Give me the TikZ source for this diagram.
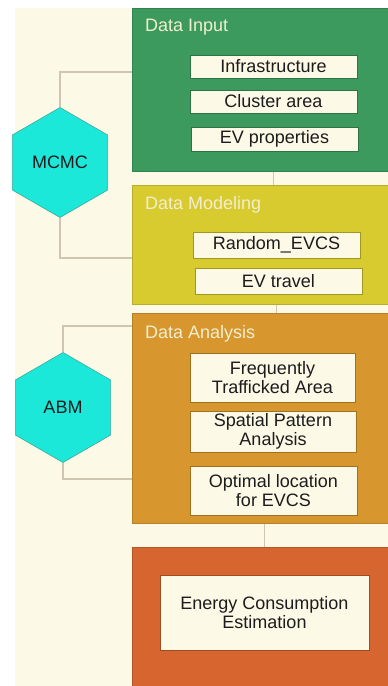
\documentclass[tikz,border=0pt]{standalone}
\usepackage{fontspec}
\setmainfont{Liberation Sans}
\usepackage{tikz}
\usetikzlibrary{positioning,shapes.geometric}

\definecolor{paper}{HTML}{FDF9E7}
\definecolor{inputgreen}{HTML}{3C9A5E}
\definecolor{modelyellow}{HTML}{D7CB2F}
\definecolor{analysisorange}{HTML}{D7962E}
\definecolor{energyred}{HTML}{D6652F}
\definecolor{hexcyan}{HTML}{1CE8DA}
\definecolor{hexedge}{HTML}{3FA89E}
\definecolor{linkgray}{HTML}{CFC6B2}
\definecolor{titlecream}{HTML}{F3EECF}
\definecolor{inktext}{HTML}{1C1C1C}

\tikzset{
  stage/.style={rectangle, anchor=north west, fill=#1, draw=#1!85!black,
    line width=0.6pt, minimum width=256pt, inner sep=0pt},
  title/.style={anchor=west, text=titlecream, inner sep=0pt,
    font=\fontsize{18}{20}\selectfont},
  item/.style={rectangle, draw=#1!75!black, fill=paper, text=inktext,
    align=center, inner sep=0pt, line width=0.6pt,
    font=\fontsize{18}{19.5}\selectfont},
  method/.style={regular polygon, regular polygon sides=6,
    shape border rotate=30, minimum size=110pt, inner sep=0pt,
    fill=hexcyan, draw=hexedge, line width=0.6pt, text=inktext,
    font=\fontsize{18}{20}\selectfont},
  link/.style={draw=linkgray, line width=1.2pt}
}

\begin{document}
\begin{tikzpicture}[x=1pt, y=-1pt]
  % Page and paper
  \fill[white] (0,0) rectangle (388,686);
  \useasboundingbox (0,0) rectangle (388,686);
  \fill[paper] (15,8) rectangle (388,686);

  % Define the stages
  \node[stage=inputgreen, minimum height=163pt] (input) at (132,8) {};
  \node[stage=modelyellow, minimum height=119pt] (model) at (132,185) {};
  \node[stage=analysisorange, minimum height=210pt] (analysis) at (132,313) {};
  \node[stage=energyred, minimum height=142pt] (energy) at (132,547) {};

  \node[title] (inputtitle) at (145,27) {Data Input};
  \node[title] (modeltitle) at (145,205) {Data Modeling};
  \node[title] (analysistitle) at (145,334) {Data Analysis};

  % Define the items of each stage
  \node[item=inputgreen, minimum width=167pt, minimum height=23pt] (infra) at (273.5,66.5) {Infrastructure};
  \node[item=inputgreen, minimum width=167pt, minimum height=23pt] (cluster) at (273.5,101.5) {Cluster area};
  \node[item=inputgreen, minimum width=167pt, minimum height=24pt] (evprop) at (274.5,139) {EV properties};

  \node[item=modelyellow, minimum width=167pt, minimum height=26pt] (evcs) at (276.5,245) {Random\_EVCS};
  \node[item=modelyellow, minimum width=167pt, minimum height=26pt] (travel) at (278.5,281) {EV travel};

  \node[item=analysisorange, minimum width=165pt, minimum height=49pt] (traffic) at (272.5,377.5) {Frequently\\Trafficked Area};
  \node[item=analysisorange, minimum width=166pt, minimum height=41pt] (pattern) at (273,431.5) {Spatial Pattern\\Analysis};
  \node[item=analysisorange, minimum width=167pt, minimum height=49pt] (optimal) at (273.5,490.5) {Optimal location\\for EVCS};

  \node[item=energyred, minimum width=209pt, minimum height=75pt] (consume) at (264.5,612.5) {Energy Consumption\\Estimation};

  % Define the methods
  \node[method] (mcmc) at (60,162.5) {MCMC};
  \node[method] (abm) at (63,407.5) {ABM};

  % Draw the links
  \draw[link] (mcmc.north) |- ([yshift=-64pt]input.north west);
  \draw[link] (mcmc.south) |- ([yshift=-73pt]model.north west);
  \draw[link] (abm.north) |- ([yshift=-13pt]analysis.north west);
  \draw[link] (abm.south) |- ([yshift=-166pt]analysis.north west);

  \draw[link] (infra |- input.south) -- (infra |- model.north);
  \draw[link] (evcs |- model.south) -- (evcs |- analysis.north);
  \draw[link] (consume |- analysis.south) -- (consume |- energy.north);
\end{tikzpicture}
\end{document}
